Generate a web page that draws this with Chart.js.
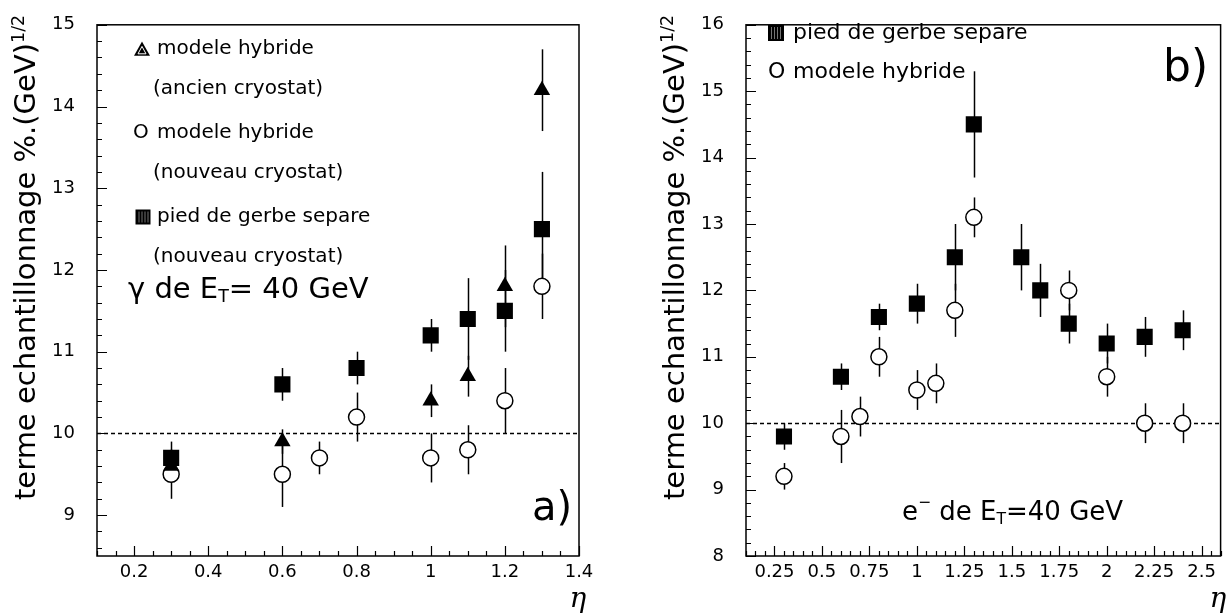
<!DOCTYPE html>
<html>
<head>
<meta charset="utf-8">
<title>terme echantillonnage</title>
<script src="https://cdn.jsdelivr.net/npm/chart.js@4.4.1/dist/chart.umd.min.js"></script>
<style>
  html, body { margin: 0; padding: 0; background: #fff; }
  #wrap { position: relative; width: 1232px; height: 614px; }
  canvas { position: absolute; top: 0; }
  #chartA { left: 0; }
  #chartB { left: 616px; }
</style>
</head>
<body>
<div id="wrap">
  <canvas id="chartA" width="616" height="614"></canvas>
  <canvas id="chartB" width="616" height="614"></canvas>
</div>
<script>
// ---- panel a) : gamma, E_T = 40 GeV ----
const xTicksA = [0.2, 0.4, 0.6, 0.8, 1, 1.2, 1.4];
const yTicksA = [9, 10, 11, 12, 13, 14, 15];

// pied de gerbe separe (nouveau cryostat)
const etaSquareA = [0.3, 0.6, 0.8, 1.0, 1.1, 1.2, 1.3];
const valSquareA = [9.7, 10.6, 10.8, 11.2, 11.4, 11.5, 12.5];
const errSquareA = [0.2, 0.2, 0.2, 0.2, 0.5, 0.5, 0.7];

// modele hybride (ancien cryostat)
const etaTriA = [0.3, 0.6, 1.0, 1.1, 1.2, 1.3];
const valTriA = [9.6, 9.9, 10.4, 10.7, 11.8, 14.2];
const errTriA = [0.2, 0.15, 0.2, 0.25, 0.5, 0.5];

// modele hybride (nouveau cryostat)
const etaCircA = [0.3, 0.6, 0.7, 0.8, 1.0, 1.1, 1.2, 1.3];
const valCircA = [9.5, 9.5, 9.7, 10.2, 9.7, 9.8, 10.4, 11.8];
const errCircA = [0.3, 0.4, 0.2, 0.3, 0.3, 0.3, 0.4, 0.4];

// ---- panel b) : e-, E_T = 40 GeV ----
const xTicksB = [0.25, 0.5, 0.75, 1, 1.25, 1.5, 1.75, 2, 2.25, 2.5];
const yTicksB = [8, 9, 10, 11, 12, 13, 14, 15, 16];

// pied de gerbe separe
const etaSquareB = [0.3, 0.6, 0.8, 1.0, 1.2, 1.3, 1.55, 1.65, 1.8, 2.0, 2.2, 2.4];
const valSquareB = [9.8, 10.7, 11.6, 11.8, 12.5, 14.5, 12.5, 12.0, 11.5, 11.2, 11.3, 11.4];
const errSquareB = [0.2, 0.2, 0.2, 0.3, 0.5, 0.8, 0.5, 0.4, 0.3, 0.3, 0.3, 0.3];

// modele hybride
const etaCircB = [0.3, 0.6, 0.7, 0.8, 1.0, 1.1, 1.2, 1.3, 1.8, 2.0, 2.2, 2.4];
const valCircB = [9.2, 9.8, 10.1, 11.0, 10.5, 10.6, 11.7, 13.1, 12.0, 10.7, 10.0, 10.0];
const errCircB = [0.2, 0.4, 0.3, 0.3, 0.3, 0.3, 0.4, 0.3, 0.3, 0.3, 0.3, 0.3];

const FONT = '"DejaVu Sans", sans-serif';

function points(xs, ys, errs) {
    return xs.map((x, i) => ({ x, y: ys[i], err: errs[i] }));
}

// text with optional sub/superscript pieces: [[text, mode], ...]
function drawRich(ctx, x, y, parts, size) {
    let cx = x;
    parts.forEach(([t, mode]) => {
        const s = mode ? size * 0.6 : size;
        ctx.font = `${s}px ${FONT}`;
        let dy = 0;
        if (mode === 'sub') dy = size * 0.25;
        if (mode === 'sup') dy = -size * 0.38;
        ctx.fillText(t, cx, y + dy);
        cx += ctx.measureText(t).width;
    });
}

function drawMark(ctx, m) {
    const h = m.s / 2;
    ctx.fillStyle = '#000';
    ctx.strokeStyle = '#fff';
    ctx.lineWidth = 1;
    ctx.beginPath();
    if (m.type === 'tri') {
        ctx.moveTo(m.x - h, m.y + h * 0.85);
        ctx.lineTo(m.x + h, m.y + h * 0.85);
        ctx.lineTo(m.x, m.y - h * 0.95);
        ctx.closePath();
        ctx.fill();
        ctx.beginPath();
        ctx.moveTo(m.x - h + 4, m.y + h * 0.85 - 2);
        ctx.lineTo(m.x + h - 4, m.y + h * 0.85 - 2);
        ctx.lineTo(m.x, m.y - h * 0.95 + 5);
        ctx.closePath();
        ctx.stroke();
    } else {
        ctx.rect(m.x - h, m.y - h, m.s, m.s);
        ctx.fill();
        ctx.beginPath();
        for (let i = 3; i < m.s - 2; i += 3) {
            ctx.moveTo(m.x - h + i + 0.5, m.y - h + 2);
            ctx.lineTo(m.x - h + i + 0.5, m.y + h - 2);
        }
        ctx.strokeStyle = 'rgba(255,255,255,0.45)';
        ctx.stroke();
    }
}

function tickLoop(min, max, step, fn) {
    for (let i = Math.ceil(min / step - 1e-6); i * step <= max + 1e-6; i++) fn(i * step);
}

const panelPlugin = {
    id: 'panel',
    beforeDatasetsDraw(chart, args, opts) {
        const { ctx, chartArea: a, scales: { x, y } } = chart;
        ctx.save();
        // dashed reference line at 10
        ctx.strokeStyle = '#000';
        ctx.lineWidth = 1.3;
        ctx.setLineDash([4, 3]);
        const yr = Math.round(y.getPixelForValue(opts.refLine)) + 0.5;
        ctx.beginPath();
        ctx.moveTo(a.left, yr);
        ctx.lineTo(a.right, yr);
        ctx.stroke();
        ctx.setLineDash([]);
        // vertical error bars
        ctx.lineWidth = 1.5;
        chart.data.datasets.forEach(ds => {
            ds.data.forEach(p => {
                const px = Math.round(x.getPixelForValue(p.x)) + 0.5;
                ctx.beginPath();
                ctx.moveTo(px, y.getPixelForValue(p.y - p.err));
                ctx.lineTo(px, y.getPixelForValue(p.y + p.err));
                ctx.stroke();
            });
        });
        ctx.restore();
    },
    afterDatasetsDraw(chart, args, opts) {
        const { ctx, chartArea: a, scales: { x, y } } = chart;
        ctx.save();
        ctx.strokeStyle = '#000';
        ctx.lineWidth = 1.5;
        ctx.strokeRect(a.left, a.top, a.right - a.left, a.bottom - a.top);

        // inward ticks on left and bottom axes
        ctx.lineWidth = 1.2;
        ctx.beginPath();
        tickLoop(y.min, y.max, opts.yMinor, v => {
            const py = Math.round(y.getPixelForValue(v)) + 0.5;
            const len = Math.abs(v - Math.round(v)) < 1e-6 ? 10 : 5;
            ctx.moveTo(a.left, py);
            ctx.lineTo(a.left + len, py);
        });
        tickLoop(x.min, x.max, opts.xMinor, v => {
            const px = Math.round(x.getPixelForValue(v)) + 0.5;
            const major = opts.xMajor.some(t => Math.abs(t - v) < 1e-6);
            ctx.moveTo(px, a.bottom);
            ctx.lineTo(px, a.bottom - (major ? 10 : 5));
        });
        ctx.stroke();

        // legend markers and annotations
        (opts.marks || []).forEach(m => drawMark(ctx, m));
        ctx.fillStyle = '#000';
        ctx.textAlign = 'left';
        ctx.textBaseline = 'middle';
        (opts.texts || []).forEach(t => drawRich(ctx, t.x, t.y, t.parts, t.size));

        // eta label
        ctx.font = `italic 28px "DejaVu Serif", serif`;
        ctx.textAlign = 'center';
        ctx.fillText('η', opts.etaPos[0], opts.etaPos[1]);

        // rotated y title with superscript
        ctx.translate(opts.yTitle.x, opts.yTitle.y);
        ctx.rotate(-Math.PI / 2);
        ctx.textAlign = 'left';
        ctx.textBaseline = 'alphabetic';
        drawRich(ctx, 0, 0, [['terme echantillonnage %.(GeV)'], ['1/2', 'sup']], opts.yTitle.size);
        ctx.restore();
    }
};

function makeChart(id, cfg) {
    const tickFont = { family: FONT, size: 18 };
    return new Chart(document.getElementById(id), {
        type: 'scatter',
        data: { datasets: cfg.datasets },
        options: {
            responsive: false,
            animation: false,
            devicePixelRatio: 1,
            events: [],
            layout: { padding: cfg.padding },
            plugins: { legend: { display: false }, tooltip: { enabled: false }, panel: cfg.panel },
            scales: {
                x: {
                    type: 'linear', min: cfg.xMin, max: cfg.xMax,
                    grid: { display: false }, border: { display: false },
                    ticks: { font: tickFont, color: '#000', padding: -2, maxRotation: 0, autoSkip: false,
                             callback: v => String(v) },
                    afterBuildTicks: s => { s.ticks = cfg.xTicks.map(v => ({ value: v })); },
                    afterFit: s => { s.height = 58; }
                },
                y: {
                    type: 'linear', min: cfg.yMin, max: cfg.yMax,
                    grid: { display: false }, border: { display: false },
                    ticks: { font: tickFont, color: '#000', padding: 14, autoSkip: false,
                             callback: v => String(v) },
                    afterBuildTicks: s => { s.ticks = cfg.yTicks.map(v => ({ value: v })); },
                    afterFit: s => { s.width = cfg.yAxisWidth; }
                }
            }
        },
        plugins: [panelPlugin]
    });
}

const squareStyle = { pointStyle: 'rect', pointRadius: 11.4, backgroundColor: '#000', borderWidth: 0 };
const triStyle = { pointStyle: 'triangle', pointRadius: 9.5, backgroundColor: '#000', borderWidth: 0 };
const circStyle = { pointStyle: 'circle', pointRadius: 8, backgroundColor: '#fff', borderColor: '#000', borderWidth: 1.5 };

makeChart('chartA', {
    xMin: 0.1, xMax: 1.4, yMin: 8.5, yMax: 15,
    xTicks: xTicksA, yTicks: yTicksA,
    yAxisWidth: 97,
    padding: { left: 0, right: 37, top: 12, bottom: 0 },
    datasets: [
        { label: 'pied de gerbe separe (nouveau cryostat)', data: points(etaSquareA, valSquareA, errSquareA), order: 1, ...squareStyle },
        { label: 'modele hybride (ancien cryostat)', data: points(etaTriA, valTriA, errTriA), order: 2, ...triStyle },
        { label: 'modele hybride (nouveau cryostat)', data: points(etaCircA, valCircA, errCircA), order: 3, ...circStyle }
    ],
    panel: {
        refLine: 10, xMinor: 0.05, yMinor: 0.2, xMajor: xTicksA,
        etaPos: [578, 600],
        yTitle: { x: 35, y: 500, size: 29 },
        marks: [
            { type: 'tri', x: 142, y: 49, s: 16 },
            { type: 'sq', x: 143, y: 217, s: 15 }
        ],
        texts: [
            { x: 157, y: 49, size: 20, parts: [['modele hybride']] },
            { x: 153, y: 89, size: 20, parts: [['(ancien cryostat)']] },
            { x: 133, y: 133, size: 20, parts: [['O']] },
            { x: 157, y: 133, size: 20, parts: [['modele hybride']] },
            { x: 153, y: 173, size: 20, parts: [['(nouveau cryostat)']] },
            { x: 157, y: 217, size: 20, parts: [['pied de gerbe separe']] },
            { x: 153, y: 257, size: 20, parts: [['(nouveau cryostat)']] },
            { x: 128, y: 290, size: 29, parts: [['γ de E'], ['T', 'sub'], ['= 40 GeV']] },
            { x: 532, y: 510, size: 40, parts: [['a)']] }
        ]
    }
});

makeChart('chartB', {
    xMin: 0.1, xMax: 2.6, yMin: 8, yMax: 16,
    xTicks: xTicksB, yTicks: yTicksB,
    yAxisWidth: 130,
    padding: { left: 0, right: 5, top: 12, bottom: 0 },
    datasets: [
        { label: 'pied de gerbe separe', data: points(etaSquareB, valSquareB, errSquareB), order: 1, ...squareStyle },
        { label: 'modele hybride', data: points(etaCircB, valCircB, errCircB), order: 2, ...circStyle }
    ],
    panel: {
        refLine: 10, xMinor: 0.05, yMinor: 0.2, xMajor: xTicksB,
        etaPos: [602, 600],
        yTitle: { x: 68, y: 500, size: 29 },
        marks: [
            { type: 'sq', x: 160, y: 33, s: 16 }
        ],
        texts: [
            { x: 177, y: 33, size: 22, parts: [['pied de gerbe separe']] },
            { x: 152, y: 72, size: 22, parts: [['O']] },
            { x: 177, y: 72, size: 22, parts: [['modele hybride']] },
            { x: 547, y: 70, size: 44, parts: [['b)']] },
            { x: 286, y: 513, size: 26, parts: [['e'], ['−', 'sup'], [' de E'], ['T', 'sub'], ['=40 GeV']] }
        ]
    }
});
</script>
</body>
</html>
